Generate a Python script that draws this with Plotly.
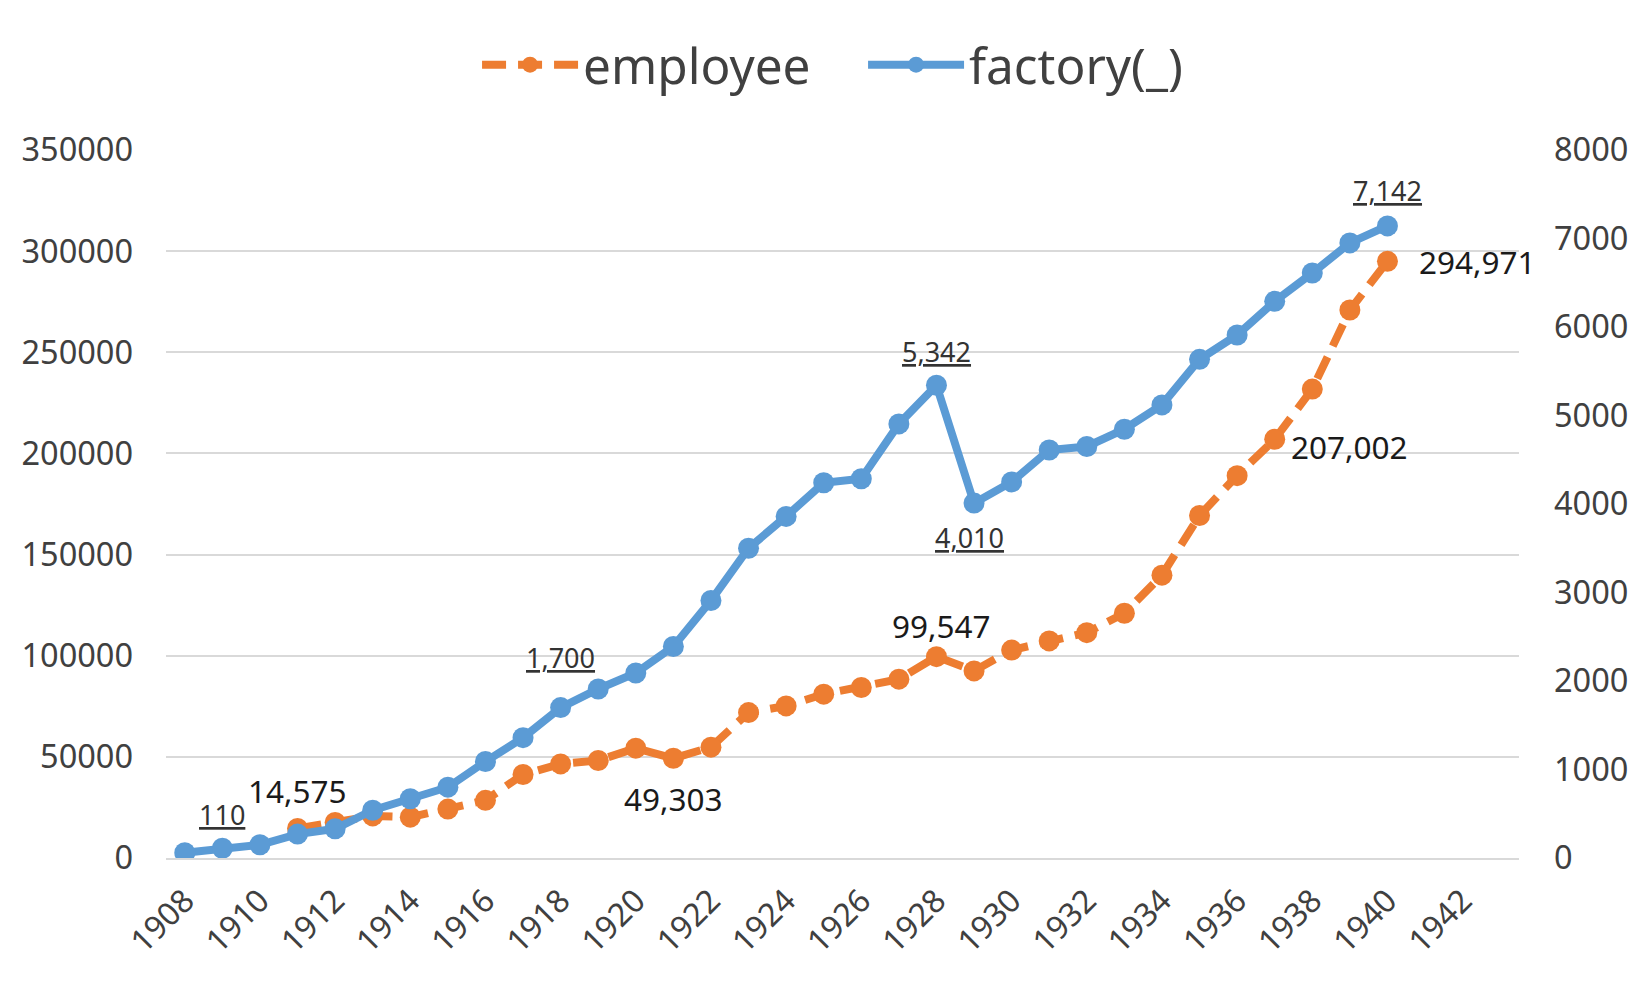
import plotly.graph_objects as go

# ---------------- data ----------------
years_factory = list(range(1908, 1941))
factory = [60, 110, 150, 270, 330, 540, 670, 800, 1090, 1360,
           1700, 1910, 2090, 2390, 2910, 3500, 3860, 4240, 4285, 4905,
           5342, 4010, 4250, 4610, 4650, 4845, 5120, 5635, 5910, 6290,
           6610, 6950, 7142]

years_employee = list(range(1911, 1941))
employee = [14575, 17600, 20800, 20200, 24200, 28500, 41300, 46500, 48200, 54300,
            49303, 54800, 71900, 75200, 81000, 84300, 88400, 99547, 92500, 102800,
            107300, 111400, 121000, 139800, 169300, 189000, 207002, 231800, 270900, 294971]

x_tick_values = list(range(1908, 1943, 2))
x_tick_labels = [str(v) for v in x_tick_values]

factory_label_years = [1909, 1918, 1928, 1929, 1940]
employee_label_years = [1911, 1921, 1928, 1937, 1940]

# ---------------- styles ----------------
ORANGE = "#ED7D31"
BLUE = "#5B9BD5"
FONT = "Noto Sans"
TXT = "#404040"

fig = go.Figure()

fig.add_trace(go.Scatter(
    x=years_employee, y=employee, name="employee", yaxis="y",
    mode="lines+markers",
    line=dict(color=ORANGE, width=8, dash="24px,12px"),
    marker=dict(color=ORANGE, size=21),
))

fig.add_trace(go.Scatter(
    x=years_factory, y=factory, name="factory(_)", yaxis="y2",
    mode="lines+markers",
    line=dict(color=BLUE, width=8),
    marker=dict(color=BLUE, size=21),
))

# label placement (pixel offsets)
fac_style = {1909: (0, 34, "center"), 1918: (0, 50, "center"), 1928: (0, 34, "center"),
             1929: (-5, -34, "center"), 1940: (0, 35, "center")}
emp_style = {1911: (0, 38, "center"), 1921: (0, -40, "center"), 1928: (5, 31, "center"),
             1937: (14, -7, "left"), 1940: (30, 0, "left")}

annotations = []
for yr in factory_label_years:
    v = factory[years_factory.index(yr)]
    dx, dy, anc = fac_style[yr]
    annotations.append(dict(
        x=yr, y=v, xref="x", yref="y2", text="<u>%s</u>" % f"{v:,}",
        showarrow=False, xshift=dx, yshift=dy, xanchor=anc, yanchor="middle",
        font=dict(family=FONT, size=27, color="#333333")))
for yr in employee_label_years:
    v = employee[years_employee.index(yr)]
    dx, dy, anc = emp_style[yr]
    annotations.append(dict(
        x=yr, y=v, xref="x", yref="y", text=f"{v:,}",
        showarrow=False, xshift=dx, yshift=dy, xanchor=anc, yanchor="middle",
        font=dict(family=FONT, size=31.5, color="#1a1a1a")))

fig.update_layout(
    width=1650, height=988,
    paper_bgcolor="white", plot_bgcolor="white",
    margin=dict(l=158, r=139, t=142, b=138, pad=0),
    font=dict(family=FONT, color=TXT),
    showlegend=True,
    legend=dict(orientation="h", x=0.2299, xanchor="left", y=1.12, yanchor="middle",
                font=dict(family=FONT, size=49.5, color=TXT), itemwidth=96,
                entrywidth=275, entrywidthmode="pixels",
                bgcolor="rgba(0,0,0,0)"),
    xaxis=dict(range=[1907.5, 1943.5], tickmode="array", tickvals=x_tick_values,
               ticktext=x_tick_labels, tickangle=-45, showgrid=False,
               showline=True, linecolor="#D9D9D9", linewidth=2, zeroline=False,
               ticks="", tickfont=dict(family=FONT, size=32, color=TXT),
               ticklabelstandoff=9, ticklabelshift=0),
    yaxis=dict(range=[0, 350000], dtick=50000, tick0=0, tickformat="d",
               showgrid=True, gridcolor="#D9D9D9", gridwidth=2, zeroline=False,
               showline=False, ticks="", tickfont=dict(family=FONT, size=32.5, color=TXT),
               ticklabelstandoff=32),
    yaxis2=dict(range=[0, 8000], dtick=1000, tick0=0, tickformat="d",
                overlaying="y", side="right", showgrid=False, zeroline=False,
                showline=False, ticks="", tickfont=dict(family=FONT, size=32.5, color=TXT),
                ticklabelstandoff=34),
    annotations=annotations,
    hovermode=False,
)

fig.write_html("out.html")
